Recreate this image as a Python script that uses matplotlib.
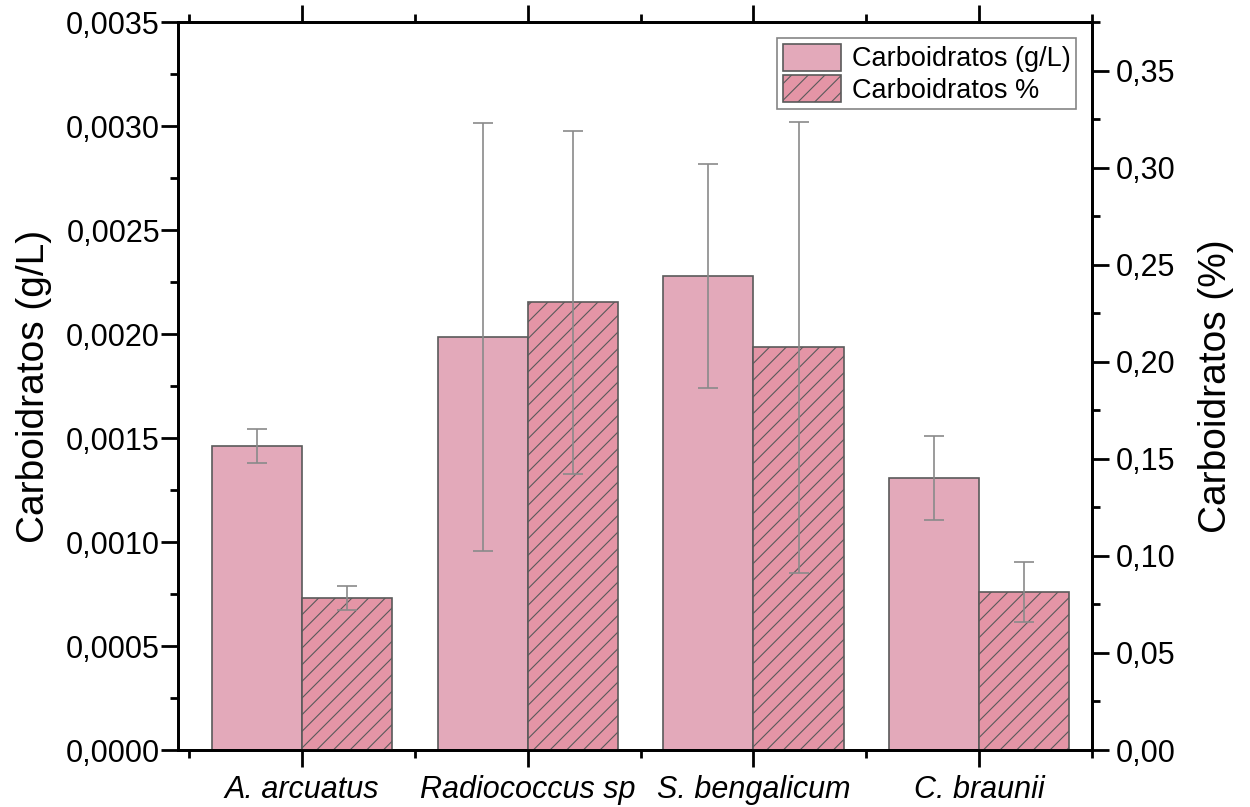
import numpy as np
import matplotlib
matplotlib.use("Agg")
import matplotlib.pyplot as plt
from matplotlib.ticker import MultipleLocator, FixedLocator, FuncFormatter

plt.rcParams['font.family'] = ['Liberation Sans', 'DejaVu Sans']
plt.rcParams['hatch.color'] = '#6a5058'
plt.rcParams['hatch.linewidth'] = 0.8

especies = ["A. arcuatus", "Radiococcus sp", "S. bengalicum", "C. braunii"]
carb_gl = [0.001462, 0.001986, 0.002279, 0.001308]
carb_gl_err = [0.00008, 0.00103, 0.00054, 0.0002]
carb_pct = [0.0782, 0.2306, 0.2074, 0.0813]
carb_pct_err = [0.0062, 0.0883, 0.1163, 0.0154]

cor_gl = '#e3a9ba'
cor_pct = '#e495a6'
cor_borda = '#5a5a5a'
cor_erro = '#8a8a8a'

x = np.arange(len(especies))
w = 0.4

fig = plt.figure(figsize=(12.5, 8.07), dpi=100)
ax = fig.add_axes([178/1250, 57/807, (1092-178)/1250, (750-22)/807])
ax2 = ax.twinx()

b1 = ax.bar(x - w/2, carb_gl, w, color=cor_gl, edgecolor=cor_borda, linewidth=1.2,
            yerr=carb_gl_err, error_kw=dict(ecolor=cor_erro, elinewidth=1.2, capsize=7, capthick=1.2),
            label='Carboidratos (g/L)', zorder=2)
b2 = ax2.bar(x + w/2, carb_pct, w, color=cor_pct, edgecolor=cor_borda, linewidth=1.2, hatch='//',
             yerr=carb_pct_err, error_kw=dict(ecolor=cor_erro, elinewidth=1.2, capsize=7, capthick=1.2),
             label='Carboidratos %', zorder=2)

ax.set_xlim(-0.55, 3.5)
ax.set_ylim(0, 0.0035)
ax2.set_ylim(0, 0.375)

ax.set_xticks(x)
ax.set_xticklabels(especies, fontstyle='italic', fontsize=22)
ax.xaxis.set_minor_locator(FixedLocator(np.arange(-0.5, 3.6, 1.0)))

ax.yaxis.set_major_locator(MultipleLocator(0.0005))
ax.yaxis.set_minor_locator(MultipleLocator(0.00025))
ax.yaxis.set_major_formatter(FuncFormatter(lambda v, p: f"{v:.4f}".replace('.', ',')))
ax2.yaxis.set_major_locator(MultipleLocator(0.05))
ax2.yaxis.set_minor_locator(MultipleLocator(0.025))
ax2.yaxis.set_major_formatter(FuncFormatter(lambda v, p: f"{v:.2f}".replace('.', ',')))

ax.tick_params(axis='y', which='major', direction='out', length=12, width=2, labelsize=22, pad=1)
ax.tick_params(axis='y', which='minor', direction='out', length=6, width=2)
ax.tick_params(axis='x', which='major', direction='out', length=12, width=2, pad=6, top=True)
ax.tick_params(axis='x', which='minor', direction='out', length=6, width=2, top=True)
ax2.tick_params(axis='y', which='major', direction='out', length=12, width=2, labelsize=22, pad=5)
ax2.tick_params(axis='y', which='minor', direction='out', length=6, width=2)

for a in (ax, ax2):
    for s in a.spines.values():
        s.set_linewidth(2)

ax.set_ylabel('Carboidratos (g/L)', fontsize=28, labelpad=10)
ax2.set_ylabel('Carboidratos (%)', fontsize=28, labelpad=16)

leg = ax2.legend([b1, b2], ['Carboidratos (g/L)', 'Carboidratos %'], loc='upper right',
                 fontsize=19.5, frameon=True, fancybox=False, edgecolor='#666666',
                 handlelength=2.15, handleheight=1.15, borderpad=0.2, labelspacing=0.1,
                 handletextpad=0.4, borderaxespad=0.6)
leg.get_frame().set_linewidth(1.2)

fig.savefig('out.png', dpi=100)
